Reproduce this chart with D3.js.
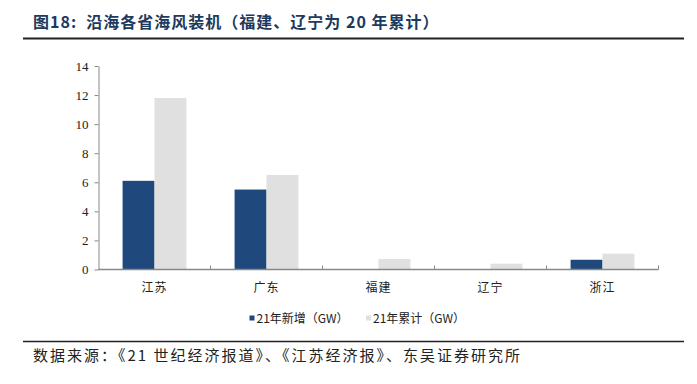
<!DOCTYPE html>
<html>
<head>
<meta charset="utf-8">
<script src="https://cdn.jsdelivr.net/npm/d3@7"></script>
<style>
  body { margin: 0; background: #fff; }
</style>
</head>
<body>
<div id="chart"></div>
<script>
// coastal provinces offshore wind capacity

var provinces = ["江苏", "广东", "福建", "辽宁", "浙江"];
var newAdded = [6.1, 5.5, 0, 0, 0.67];
var cumulative = [11.8, 6.5, 0.72, 0.4, 1.09];
var seriesNames = ["21年新增（GW）", "21年累计（GW）"];
var yTicks = [0, 2, 4, 6, 8, 10, 12, 14];

var W = 697, H = 384;
var colors = ["#1f497d", "#e0e0e0"];
var cjk = "'Noto Sans CJK SC', sans-serif";
var serif = "'Liberation Serif', 'Times New Roman', serif";

var svg = d3.select("#chart")
    .append("svg")
    .attr("width", W)
    .attr("height", H);

// title + rules
svg.append("text")
    .attr("x", 33)
    .attr("y", 28)
    .style("font-family", cjk)
    .style("font-size", "16px")
    .style("font-weight", "bold")
    .style("letter-spacing", "1px")
    .style("white-space", "pre")
    .attr("fill", "#1c3a5e")
    .text("图18:  沿海各省海风装机（福建、辽宁为 20 年累计）");

svg.append("line")
    .attr("x1", 23).attr("x2", 684)
    .attr("y1", 38.5).attr("y2", 38.5)
    .style("stroke", "#222")
    .style("stroke-width", "2px");

svg.append("line")
    .attr("x1", 23).attr("x2", 684)
    .attr("y1", 341.5).attr("y2", 341.5)
    .style("stroke", "#222")
    .style("stroke-width", "1.5px");

svg.append("text")
    .attr("x", 33)
    .attr("y", 361)
    .style("font-family", cjk)
    .style("font-size", "15px")
    .style("letter-spacing", "2px")
    .attr("fill", "#222")
    .text("数据来源：《21 世纪经济报道》、《江苏经济报》、东吴证券研究所");

// plot area
var x0 = d3.scaleBand()
    .domain(provinces)
    .range([98.5, 658.5])
    .paddingInner(0.43)
    .paddingOuter(0.215);

var x = d3.scaleBand()
    .domain([0, 1])
    .range([0, x0.bandwidth()]);

var y = d3.scaleLinear()
    .domain([0, 14])
    .range([269.5, 66]);

var rows = provinces.map(function (p, i) {
    return { name: p, values: [newAdded[i], cumulative[i]] };
});

var g = svg.append("g");

g.selectAll(".cat")
    .data(rows)
    .enter()
    .append("g")
    .attr("class", "cat")
    .attr("transform", function (d) { return "translate(" + x0(d.name) + ",0)"; })
    .selectAll("rect")
    .data(function (d) { return d.values; })
    .enter()
    .append("rect")
    .attr("x", function (d, i) { return x(i); })
    .attr("width", x.bandwidth())
    .attr("y", function (d) { return y(d); })
    .attr("height", function (d) { return y(0) - y(d); })
    .style("fill", function (d, i) { return colors[i]; });

// y axis
var yAxis = g.append("g")
    .attr("transform", "translate(98.5,0)")
    .call(d3.axisLeft(y).tickValues(yTicks).tickSize(4).tickSizeOuter(0));
yAxis.select(".domain").style("stroke", "#888");
yAxis.selectAll(".tick line").style("stroke", "#888");
yAxis.selectAll(".tick text")
    .attr("x", -10)
    .style("font-family", serif)
    .style("font-size", "13px")
    .attr("fill", "#222");

// x axis
var step = x0.step();
var xTicks = provinces.map(function (p, i) { return 98.5 + (i + 1) * step; });
g.append("line")
    .attr("x1", 98.5).attr("x2", 658.5)
    .attr("y1", y(0)).attr("y2", y(0))
    .style("stroke", "#888")
    .style("stroke-width", "1.5px");
g.selectAll(".xtick")
    .data(xTicks)
    .enter()
    .append("line")
    .attr("x1", function (d) { return d; })
    .attr("x2", function (d) { return d; })
    .attr("y1", y(0)).attr("y2", y(0) - 4)
    .style("stroke", "#888");
g.selectAll(".xlabel")
    .data(provinces)
    .enter()
    .append("text")
    .attr("x", function (d) { return x0(d) + x0.bandwidth() / 2; })
    .attr("y", 292)
    .attr("text-anchor", "middle")
    .style("font-family", cjk)
    .style("font-size", "12px")
    .style("letter-spacing", "1px")
    .attr("fill", "#222")
    .text(function (d) { return d; });

// legend
var legendX = [249.5, 366];
var legend = svg.selectAll(".legend")
    .data(seriesNames)
    .enter()
    .append("g")
    .attr("transform", function (d, i) { return "translate(" + legendX[i] + ",315.5)"; });
legend.append("rect")
    .attr("width", 5).attr("height", 5)
    .style("fill", function (d, i) { return colors[i]; });
legend.append("text")
    .attr("x", 7)
    .attr("y", 7)
    .style("font-family", cjk)
    .style("font-size", "12px")
    .attr("fill", "#222")
    .text(function (d) { return d; });
</script>
</body>
</html>
